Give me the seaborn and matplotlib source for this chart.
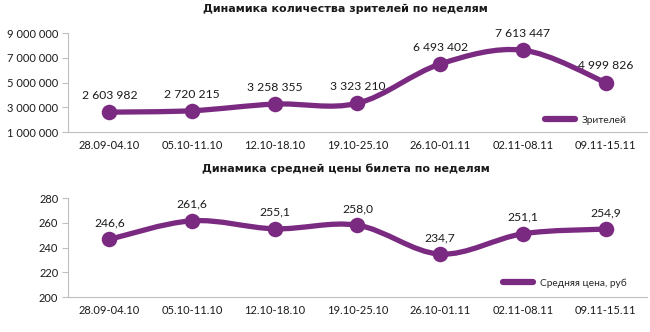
import numpy as np
import pandas as pd
import matplotlib
matplotlib.use("Agg")
import matplotlib.pyplot as plt
from matplotlib.path import Path
from matplotlib.patches import PathPatch
from matplotlib.lines import Line2D
import seaborn as sns

weeks = ["28.09-04.10", "05.10-11.10", "12.10-18.10", "19.10-25.10",
         "26.10-01.11", "02.11-08.11", "09.11-15.11"]
viewers = [2603982, 2720215, 3258355, 3323210, 6493402, 7613447, 4999826]
avg_price = [246.6, 261.6, 255.1, 258.0, 234.7, 251.1, 254.9]

title_viewers = "Динамика количества зрителей по неделям"
title_price = "Динамика средней цены билета по неделям"
legend_viewers = "Зрителей"
legend_price = "Средняя цена, руб"

viewer_ticks = [1000000, 3000000, 5000000, 7000000, 9000000]
price_ticks = [200, 220, 240, 260, 280]

PURPLE = "#7b2a81"
AXIS = "#bfbfbf"
TEXT = "#1a1a1a"

sns.set_theme(style="white")
plt.rcParams["font.family"] = ["Lato", "DejaVu Sans"]


def fmt_int(v):
    return f"{int(v):,}".replace(",", " ")


def fmt_dec(v):
    return f"{v:.1f}".replace(".", ",")


def smooth_path(xs, ys):
    # cubic Bezier through the points (Catmull-Rom style tangents)
    pts = np.column_stack([xs, ys]).astype(float)
    n = len(pts)
    verts = [pts[0]]
    codes = [Path.MOVETO]
    for i in range(n - 1):
        p0 = pts[i - 1] if i > 0 else pts[i]
        p1 = pts[i]
        p2 = pts[i + 1]
        p3 = pts[i + 2] if i + 2 < n else pts[i + 1]
        c1 = p1 + (p2 - p0) / 6.0
        c2 = p2 - (p3 - p1) / 6.0
        verts += [c1, c2, p2]
        codes += [Path.CURVE4] * 3
    return Path(verts, codes)


def draw_panel(ax, values, ticks, label_fmt, title, title_pad,
               legend_text, legend_pos):
    df = pd.DataFrame({"week": weeks, "value": values})
    df["pos"] = np.arange(len(weeks))
    ax.add_patch(PathPatch(smooth_path(df["pos"], df["value"]),
                           facecolor="none", edgecolor=PURPLE, lw=3.8,
                           capstyle="round", zorder=2))
    sns.scatterplot(data=df, x="pos", y="value", ax=ax, color=PURPLE,
                    s=125, edgecolor=PURPLE, linewidth=0, zorder=3, legend=False)
    for x, v in zip(df["pos"], df["value"]):
        ax.annotate(label_fmt(v), (x, v), xytext=(0, 8),
                    textcoords="offset points", ha="center", va="bottom",
                    fontsize=8.7, color=TEXT)
    ax.set_xlim(-0.5, len(weeks) - 0.5)
    ax.set_ylim(ticks[0], ticks[-1])
    ax.set_yticks(ticks)
    ax.set_yticklabels([fmt_int(t) for t in ticks], fontsize=8, color=TEXT)
    ax.set_xticks(df["pos"])
    ax.set_xticklabels(weeks, fontsize=8, color=TEXT)
    ax.set_xticks(np.arange(-0.5, len(weeks)), minor=True)
    ax.tick_params(axis="x", which="major", length=0, pad=6)
    ax.tick_params(axis="x", which="minor", length=4, color=AXIS, width=0.8,
                   direction="out")
    ax.tick_params(axis="y", length=4, color=AXIS, width=0.8, direction="out",
                   pad=3, left=True)
    ax.set_xlabel("")
    ax.set_ylabel("")
    for side in ["top", "right"]:
        ax.spines[side].set_visible(False)
    for side in ["left", "bottom"]:
        ax.spines[side].set_color(AXIS)
        ax.spines[side].set_linewidth(0.8)
    ax.grid(False)
    ax.set_title(title, fontsize=8, fontweight="bold", color=TEXT,
                 family="DejaVu Sans", pad=title_pad, x=0.48)
    handle = Line2D([0], [0], color=PURPLE, lw=4.5)
    ax.legend([handle], [legend_text], loc="lower right",
              bbox_to_anchor=legend_pos, frameon=False, fontsize=7.3,
              handlelength=3.0, handletextpad=0.6)


fig = plt.figure(figsize=(6.5, 3.32), dpi=100)
ax1 = fig.add_axes([0.1046, 0.6024, 0.8908, 0.2982])
ax2 = fig.add_axes([0.1046, 0.1054, 0.8908, 0.2982])

draw_panel(ax1, viewers, viewer_ticks, fmt_int, title_viewers, 15,
           legend_viewers, (0.98, -0.02))
draw_panel(ax2, avg_price, price_ticks, fmt_dec, title_price, 19,
           legend_price, (0.98, 0.0))

fig.savefig("out.png", dpi=100)
